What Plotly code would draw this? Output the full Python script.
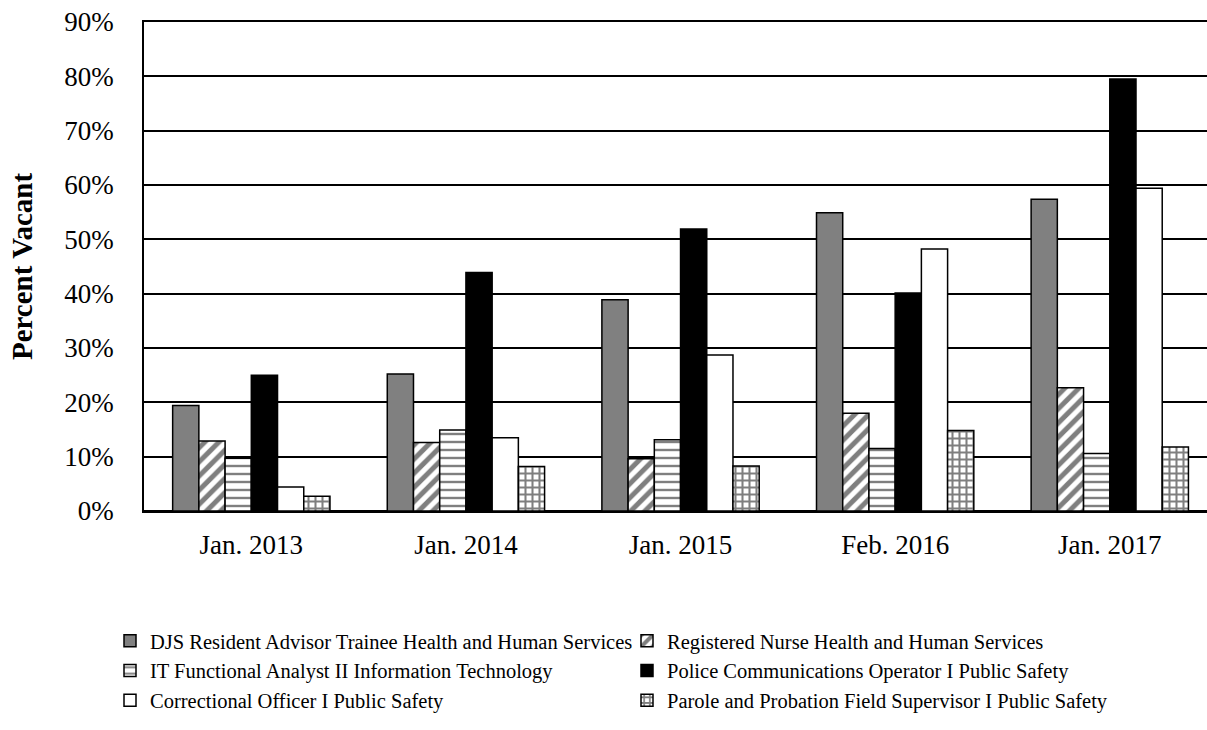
import plotly.graph_objects as go

categories = ["Jan. 2013", "Jan. 2014", "Jan. 2015", "Feb. 2016", "Jan. 2017"]

djs_resident_advisor = [19.4, 25.2, 38.9, 54.9, 57.4]
registered_nurse = [12.9, 12.6, 9.6, 18.0, 22.7]
it_functional_analyst = [9.7, 14.9, 13.1, 11.5, 10.6]
police_comm_operator = [25.0, 43.9, 51.9, 40.1, 79.5]
correctional_officer = [4.4, 13.5, 28.7, 48.2, 59.4]
parole_probation_supervisor = [2.7, 8.2, 8.3, 14.8, 11.8]

series_names = [
    "DJS Resident Advisor Trainee Health and Human Services",
    "Registered Nurse Health and Human Services",
    "IT Functional Analyst II Information Technology",
    "Police Communications Operator I Public Safety",
    "Correctional Officer I Public Safety",
    "Parole and Probation Field Supervisor I Public Safety",
]
series_values = [djs_resident_advisor, registered_nurse, it_functional_analyst,
                 police_comm_operator, correctional_officer, parole_probation_supervisor]

y_ticks = [0, 10, 20, 30, 40, 50, 60, 70, 80, 90]
y_tick_labels = [f"{v}%" for v in y_ticks]

styles = [
    dict(color="#808080"),
    dict(color="white", pattern=dict(shape="/", fgcolor="black", bgcolor="white", size=10, solidity=0.5)),
    dict(color="white", pattern=dict(shape="-", fgcolor="black", bgcolor="white", size=8, solidity=0.3)),
    dict(color="black"),
    dict(color="white"),
    dict(color="white", pattern=dict(shape="+", fgcolor="black", bgcolor="white", size=7, solidity=0.5)),
]

FONT = "Liberation Serif"
W, H = 1207, 730
L, T, B = 144, 22, 219
PLOT_H = H - T - B

fig = go.Figure()
for name, vals, st in zip(series_names, series_values, styles):
    marker = dict(line=dict(color="black", width=1.5), **st)
    fig.add_trace(go.Bar(x=categories, y=vals, name=name, marker=marker))

fig.update_layout(
    width=W, height=H,
    margin=dict(l=L, r=0, t=T, b=B, autoexpand=False),
    paper_bgcolor="white", plot_bgcolor="white",
    barmode="group", bargap=0.267, bargroupgap=0,
    font=dict(family=FONT, color="black", size=27),
    showlegend=True,
    legend=dict(
        orientation="h", x=(110 - L) / (W - L), xref="paper", xanchor="left",
        yref="paper", y=-(621 - (H - B)) / PLOT_H, yanchor="top",
        entrywidth=472, entrywidthmode="pixels",
        font=dict(family=FONT, size=20.5, color="black"),
        traceorder="normal", itemclick=False,
    ),
    xaxis=dict(
        range=[-0.5, 4.453], showgrid=False, showline=True, mirror=True,
        linecolor="black", linewidth=1.5,
        ticks="", ticklabelstandoff=9, tickfont=dict(size=27), automargin=False,
    ),
    yaxis=dict(
        range=[0, 90], tickvals=y_ticks, ticktext=y_tick_labels,
        showgrid=True, gridcolor="black", gridwidth=1.5,
        zeroline=True, zerolinecolor="black", zerolinewidth=1.5,
        showline=True, linecolor="black", linewidth=1.5,
        ticks="", ticklabelstandoff=23, tickfont=dict(size=27), automargin=False,
        title=dict(text="<b>Percent Vacant</b>", font=dict(size=29), standoff=23),
    ),
)
fig.write_html(
    "out.html",
    config={"displayModeBar": False},
    post_script="document.body.style.margin='0px';document.body.style.overflow='hidden';",
)
